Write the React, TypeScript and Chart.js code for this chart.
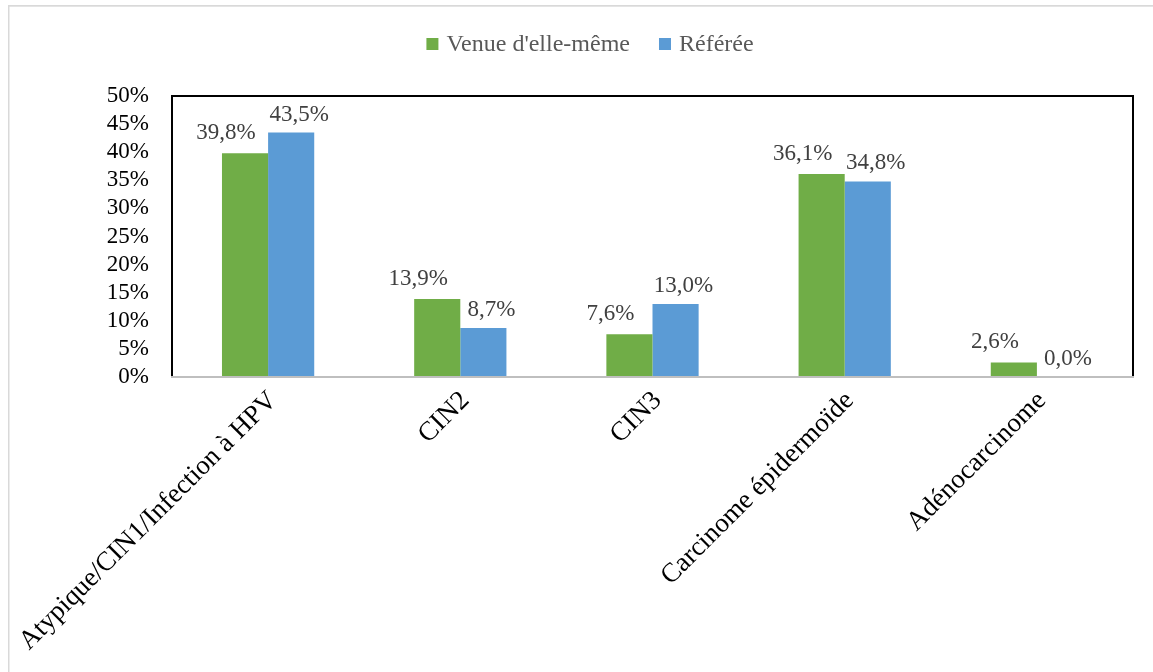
import React, { useEffect, useRef } from "react";
import { Chart, registerables } from "chart.js";

Chart.register(...registerables);

const categories = [
  "Atypique/CIN1/Infection à HPV",
  "CIN2",
  "CIN3",
  "Carcinome épidermoïde",
  "Adénocarcinome",
];
const seriesNames = ["Venue d'elle-même", "Référée"];
const venueValues = [39.8, 13.9, 7.6, 36.1, 2.6];
const refereeValues = [43.5, 8.7, 13.0, 34.8, 0.0];
const seriesColors = ["#70AD47", "#5B9BD5"];
const yMin = 0;
const yMax = 50;
const yStep = 5;

const SERIF = "'Liberation Serif', 'Times New Roman', serif";

const CANVAS_W = 1164;
const CANVAS_H = 667;

const fmt = (v: number) => v.toFixed(1).replace(".", ",") + "%";

const decorPlugin = {
  id: "decor",
  beforeDraw(chart: any) {
    const ctx = chart.ctx;
    ctx.save();
    ctx.fillStyle = "#ffffff";
    ctx.fillRect(0, 0, chart.width, chart.height);
    ctx.fillStyle = "#d9d9d9";
    ctx.fillRect(0, 0, chart.width, 1.7);
    ctx.fillRect(0, 0, 1.5, chart.height);
    ctx.restore();
  },
  afterDatasetsDraw(chart: any) {
    const ctx = chart.ctx;
    const { left, right, top, bottom } = chart.chartArea;
    ctx.save();
    // plot frame
    ctx.lineWidth = 2;
    ctx.strokeStyle = "#000000";
    ctx.beginPath();
    ctx.moveTo(left, bottom);
    ctx.lineTo(left, top);
    ctx.lineTo(right, top);
    ctx.lineTo(right, bottom);
    ctx.stroke();
    ctx.strokeStyle = "#bfbfbf";
    ctx.beginPath();
    ctx.moveTo(left - 1, bottom);
    ctx.lineTo(right + 1, bottom);
    ctx.stroke();

    // data labels
    ctx.font = `23px ${SERIF}`;
    ctx.fillStyle = "#404040";
    ctx.textAlign = "center";
    ctx.textBaseline = "alphabetic";
    const offsets = [-19, 8];
    const gaps = [14, 12];
    chart.data.datasets.forEach((ds: any, di: number) => {
      const meta = chart.getDatasetMeta(di);
      meta.data.forEach((bar: any, i: number) => {
        const v = ds.data[i] as number;
        ctx.fillText(fmt(v), bar.x + offsets[di], bar.y - gaps[di]);
      });
    });

    // legend
    ctx.font = `24px ${SERIF}`;
    ctx.textAlign = "left";
    const box = 12;
    const gapBoxText = 8;
    const gapItems = 29;
    const widths = seriesNames.map((n) => ctx.measureText(n).width);
    const total =
      widths.reduce((a, b) => a + b, 0) +
      seriesNames.length * (box + gapBoxText) +
      gapItems * (seriesNames.length - 1);
    let x = chart.width / 2 - total / 2;
    const baseY = 46;
    seriesNames.forEach((n, i) => {
      ctx.fillStyle = seriesColors[i];
      ctx.fillRect(x, baseY - 13, box, box);
      x += box + gapBoxText;
      ctx.fillStyle = "#595959";
      ctx.fillText(n, x, baseY);
      x += widths[i] + gapItems;
    });
    ctx.restore();
  },
};

export default function App() {
  const canvasRef = useRef<HTMLCanvasElement | null>(null);

  useEffect(() => {
    if (!canvasRef.current) return;
    const chart = new Chart(canvasRef.current, {
      type: "bar",
      data: {
        labels: categories,
        datasets: [
          {
            label: seriesNames[0],
            data: venueValues,
            backgroundColor: seriesColors[0],
            categoryPercentage: 0.48,
            barPercentage: 1,
          },
          {
            label: seriesNames[1],
            data: refereeValues,
            backgroundColor: seriesColors[1],
            categoryPercentage: 0.48,
            barPercentage: 1,
          },
        ],
      },
      options: {
        responsive: false,
        animation: false,
        devicePixelRatio: 1,
        layout: { padding: { left: 0, right: 39, top: 91, bottom: 0 } },
        plugins: {
          legend: { display: false },
          tooltip: { enabled: false },
        },
        scales: {
          x: {
            grid: { display: false, drawTicks: false },
            border: { display: false },
            ticks: {
              autoSkip: false,
              minRotation: 45,
              maxRotation: 45,
              padding: 8,
              labelOffset: 5,
              color: "#000000",
              font: { family: SERIF, size: 27 },
            },
            afterFit: (scale: any) => {
              scale.height = 295;
              scale.paddingLeft = 0;
              scale.paddingRight = 0;
            },
          },
          y: {
            min: yMin,
            max: yMax,
            grid: { display: false, drawTicks: false },
            border: { display: false },
            ticks: {
              autoSkip: false,
              stepSize: yStep,
              padding: 23,
              color: "#000000",
              font: { family: SERIF, size: 23 },
              callback: (v: any) => `${v}%`,
            },
            afterFit: (scale: any) => {
              scale.width = 164;
              scale.paddingTop = 0;
              scale.paddingBottom = 0;
            },
          },
        },
      },
      plugins: [decorPlugin],
    });
    return () => chart.destroy();
  }, []);

  return (
    <div
      style={{
        position: "fixed",
        left: 8,
        top: 5,
        width: 1145,
        height: 667,
        overflow: "hidden",
        background: "#ffffff",
      }}
    >
      <canvas
        ref={canvasRef}
        width={CANVAS_W}
        height={CANVAS_H}
        style={{ display: "block", width: CANVAS_W, height: CANVAS_H }}
      />
    </div>
  );
}
